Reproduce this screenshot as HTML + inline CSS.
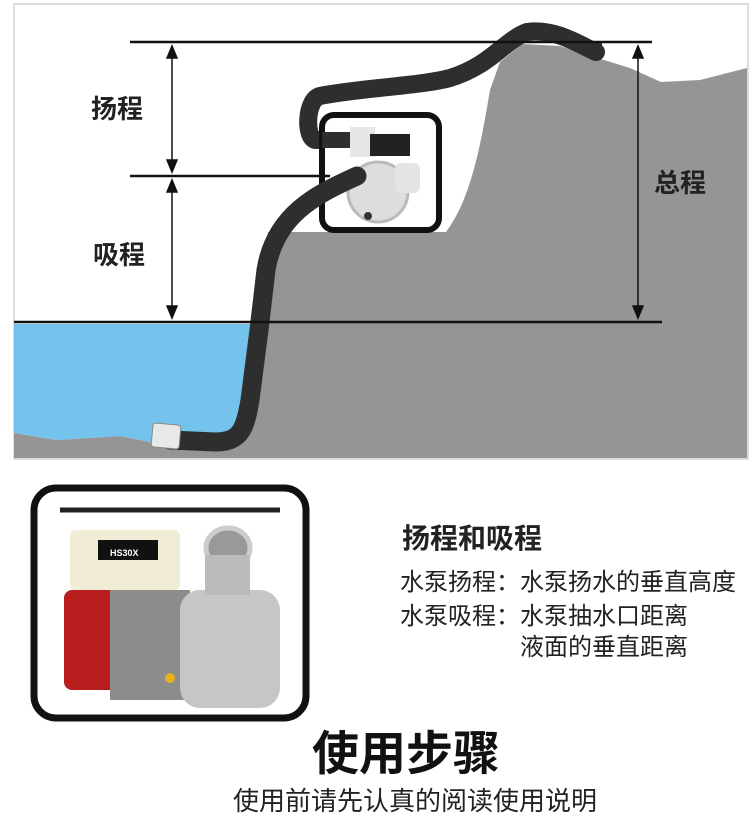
<!DOCTYPE html>
<html><head><meta charset="utf-8"><style>
html,body{margin:0;padding:0;background:#fff;}
body{width:750px;height:818px;position:relative;overflow:hidden;font-family:"Liberation Sans","Noto Sans CJK SC",sans-serif;}
.t{position:absolute;white-space:nowrap;color:#222;}
</style></head><body>
<svg width="750" height="818" style="position:absolute;left:0;top:0">
<rect x="14" y="4" width="734" height="455" fill="#fff" stroke="#bbb" stroke-width="1"/>
<path d="M268,232 L446,232 C470,200 480,150 490,90 L500,62 L522,44 L560,46 L594,57 L630,68 L661,82 L700,80 L747,68 L747,458 L14,458 L14,433 L57,440 L120,436 L180,448 L240,444 L252,400 L259,323 Z" fill="#959595"/>
<path d="M14,324 L259,324 L252,400 L240,444 L180,448 L120,436 L57,440 L14,433 Z" fill="#74c3ec"/>
<!-- discharge hose -->
<path d="M340,140 L316,140 C305,140 305,100 320,96 C360,88 420,86 450,78 C490,66 505,40 527,32 C555,28 580,45 596,52" fill="none" stroke="#2e2e2e" stroke-width="18" stroke-linecap="round"/>
<rect x="590" y="42" width="12" height="16" fill="#2e2e2e"/>
<!-- pump -->
<rect x="322" y="115" width="117" height="115" rx="12" fill="#fff" stroke="#111" stroke-width="6"/>
<rect x="322" y="132" width="30" height="16" fill="#2e2e2e"/>
<rect x="350" y="127" width="25" height="30" fill="#e6e6e6"/>
<rect x="370" y="134" width="40" height="22" fill="#222"/>
<circle cx="378" cy="192" r="30" fill="#ddd" stroke="#bbb" stroke-width="3"/>
<rect x="395" y="163" width="25" height="30" rx="6" fill="#e4e4e4"/>
<circle cx="368" cy="216" r="4" fill="#333"/>
<!-- suction hose -->
<path d="M357,176 C315,195 275,215 266,270 L259,330 L250,400 C245,430 240,442 215,442 L170,440" fill="none" stroke="#2e2e2e" stroke-width="19" stroke-linecap="round"/>
<rect x="152" y="424" width="28" height="24" rx="3" fill="#e8e8e8" stroke="#888" stroke-width="1" transform="rotate(5 166 436)"/>
<line x1="130" y1="42" x2="652" y2="42" stroke="#111" stroke-width="2.5"/>
<line x1="130" y1="176" x2="330" y2="176" stroke="#111" stroke-width="2.5"/>
<line x1="14" y1="322" x2="662" y2="322" stroke="#111" stroke-width="2.5"/>
<g stroke="#111" stroke-width="1.5" fill="#111">
<line x1="172" y1="52" x2="172" y2="166"/><path d="M167,58 L172,46 L177,58Z"/><path d="M167,160 L172,172 L177,160Z"/>
<line x1="172" y1="186" x2="172" y2="312"/><path d="M167,192 L172,180 L177,192Z"/><path d="M167,306 L172,318 L177,306Z"/>
<line x1="638" y1="52" x2="638" y2="312"/><path d="M633,58 L638,46 L643,58Z"/><path d="M633,306 L638,318 L643,306Z"/>
</g>
<!-- pump photo approx -->
<rect x="34" y="488" width="272" height="230" rx="22" fill="none" stroke="#111" stroke-width="7"/>
<line x1="60" y1="510" x2="280" y2="510" stroke="#222" stroke-width="5"/>
<rect x="70" y="530" width="110" height="60" rx="6" fill="#f1ecd6"/>
<rect x="98" y="540" width="60" height="20" fill="#111"/>
<text x="110" y="556" font-size="9" fill="#fff" font-weight="bold" font-family="Liberation Sans">HS30X</text>
<rect x="64" y="590" width="55" height="100" rx="8" fill="#b81e1e"/>
<rect x="110" y="590" width="80" height="110" fill="#8c8c8c"/>
<rect x="180" y="590" width="100" height="118" rx="20" fill="#c6c6c6"/>
<ellipse cx="228" cy="548" rx="22" ry="20" fill="#999" stroke="#ccc" stroke-width="5"/>
<rect x="205" y="555" width="45" height="40" fill="#bbb"/>
<circle cx="170" cy="678" r="5" fill="#e8b020"/>
</svg>
<div class="t" style="left:91px;top:89px;font-size:26px;font-weight:bold;">扬程</div>
<div class="t" style="left:93px;top:235px;font-size:26px;font-weight:bold;">吸程</div>
<div class="t" style="left:654px;top:163px;font-size:26px;font-weight:bold;">总程</div>
<div class="t" style="left:402px;top:517px;font-size:28px;font-weight:bold;">扬程和吸程</div>
<div class="t" style="left:400px;top:562px;font-size:24px;">水泵扬程：水泵扬水的垂直高度</div>
<div class="t" style="left:400px;top:596px;font-size:24px;">水泵吸程：水泵抽水口距离</div>
<div class="t" style="left:520px;top:627px;font-size:24px;">液面的垂直距离</div>
<div class="t" style="left:312px;top:715px;font-size:47px;font-weight:bold;color:#111;">使用步骤</div>
<div class="t" style="left:233px;top:781px;font-size:26px;">使用前请先认真的阅读使用说明</div>
</body></html>
